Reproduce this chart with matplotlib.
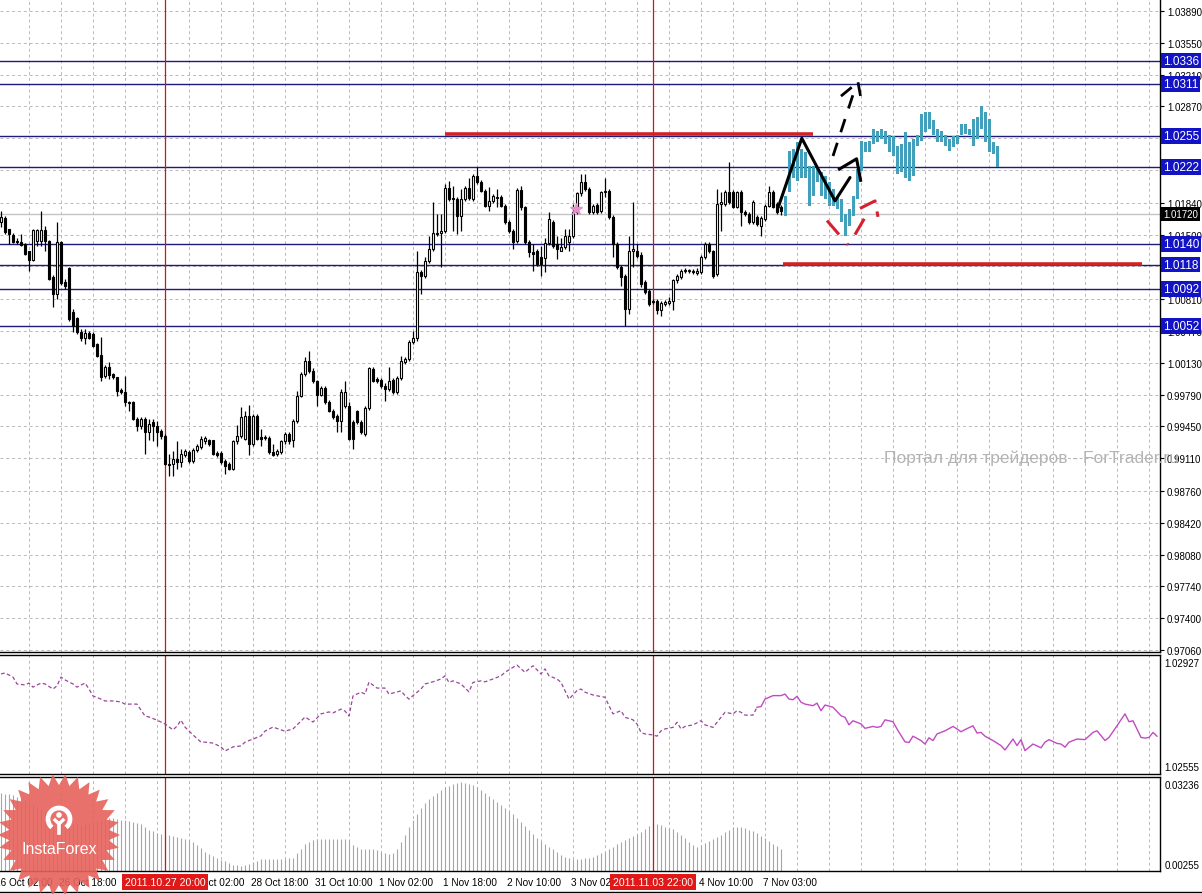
import numpy as np
import matplotlib
matplotlib.use("Agg")
import matplotlib.pyplot as plt
from matplotlib import transforms
from matplotlib.patches import Polygon, Circle, Arc
from matplotlib.lines import Line2D

plt.rcParams['font.family'] = ['Liberation Sans', 'DejaVu Sans']

W, H = 1202, 895

# H1 candles, prices in pips relative to 1.0000
opens = [164, 168, 156, 150, 143, 142, 140, 132, 123, 143, 143, 155, 143, 105, 87, 142, 99, 114, 67, 61,
         46, 39, 45, 44, 33, 21, -1, 9, 1, -2, -16, -18, -29, -29, -47, -55, -47, -61, -50, -55,
         -60, -65, -95, -95, -90, -93, -86, -82, -92, -80, -77, -71, -70, -70, -83, -83, -92, -95, -100, -71,
         -65, -68, -44, -74, -44, -66, -67, -67, -82, -85, -82, -71, -63, -70, -49, -22, 1, 15, 4, -7,
         -21, -14, -29, -38, -44, -49, -33, -33, -50, -39, -50, -63, -35, 6, -4, -5, -12, -15, -5, -18,
         -3, 14, 17, 35, 39, 110, 106, 122, 135, 151, 152, 154, 200, 189, 188, 170, 188, 200, 188, 213,
         206, 197, 181, 186, 189, 190, 181, 164, 154, 143, 198, 179, 142, 131, 132, 126, 125, 141, 164, 140,
         133, 137, 142, 148, 174, 194, 206, 199, 174, 182, 175, 195, 197, 169, 140, 115, 106, 71, 133, 133,
         128, 99, 90, 79, 79, 69, 76, 77, 79, 101, 105, 111, 111, 110, 109, 110, 126, 140, 132, 108,
         183, 183, 196, 196, 180, 196, 174, 172, 164, 169, 159, 167, 181, 196, 183, 180]
highs = [175, 170, 156, 152, 146, 151, 141, 133, 156, 156, 175, 159, 144, 107, 164, 143, 103, 115, 71, 62,
         49, 49, 47, 46, 34, 41, 11, 14, 2, -2, -14, -1, -28, -28, -45, -45, -45, -47, -47, -49,
         -58, -63, -84, -81, -71, -79, -79, -80, -78, -74, -65, -65, -68, -69, -81, -81, -90, -93, -69, -53,
         -34, -38, -32, -42, -42, -58, -64, -65, -74, -79, -69, -61, -61, -47, -17, 3, 19, 26, 7, -5,
         -12, -12, -27, -36, -42, -15, -6, -29, -48, -37, -48, -33, 9, 8, -2, -3, -9, 9, -3, -1,
         20, 19, 37, 47, 132, 112, 126, 148, 185, 172, 172, 204, 207, 202, 190, 199, 202, 210, 215, 222,
         208, 199, 201, 193, 199, 192, 183, 166, 156, 200, 202, 181, 144, 140, 135, 138, 146, 174, 166, 148,
         146, 156, 156, 183, 196, 215, 215, 201, 183, 184, 197, 210, 199, 171, 142, 117, 108, 148, 185, 140,
         131, 102, 92, 81, 81, 79, 80, 83, 103, 108, 113, 114, 113, 113, 114, 128, 142, 142, 134, 199,
         196, 198, 228, 198, 197, 198, 176, 174, 187, 171, 170, 183, 202, 198, 185, 182]
lows = [158, 151, 140, 141, 140, 138, 128, 111, 122, 138, 138, 133, 102, 73, 81, 96, 92, 58, 46, 44,
        36, 33, 38, 30, 19, -6, -3, -4, -4, -23, -20, -33, -39, -48, -60, -58, -84, -70, -71, -76,
        -68, -96, -108, -108, -100, -98, -88, -94, -94, -82, -79, -74, -76, -86, -88, -95, -106, -102, -102, -74,
        -67, -70, -86, -76, -70, -76, -70, -84, -87, -87, -84, -74, -74, -77, -51, -24, -1, 2, -9, -33,
        -23, -31, -40, -47, -61, -61, -35, -70, -79, -52, -63, -65, -37, -8, -9, -14, -28, -17, -20, -20,
        -5, 12, 15, 33, 36, 87, 104, 120, 133, 149, 115, 152, 186, 154, 151, 154, 186, 187, 186, 204,
        195, 179, 175, 184, 180, 179, 161, 152, 135, 141, 176, 140, 126, 111, 116, 106, 110, 139, 136, 124,
        132, 135, 132, 146, 172, 191, 197, 172, 172, 172, 173, 190, 167, 126, 113, 95, 52, 65, 115, 125,
        94, 87, 74, 76, 65, 63, 74, 75, 69, 98, 103, 109, 109, 108, 107, 108, 124, 130, 104, 106,
        154, 181, 183, 178, 178, 159, 170, 161, 161, 159, 149, 165, 179, 178, 172, 171]
closes = [169, 153, 151, 142, 142, 139, 129, 123, 155, 155, 155, 143, 103, 86, 142, 98, 95, 60, 52, 46,
          39, 45, 40, 31, 20, -2, 9, 0, -2, -17, -18, -29, -30, -47, -55, -47, -61, -52, -55, -61,
          -65, -95, -96, -90, -93, -85, -81, -92, -80, -76, -68, -67, -74, -84, -86, -93, -97, -100, -71, -65,
          -45, -44, -74, -44, -68, -68, -66, -82, -86, -81, -71, -63, -71, -49, -22, 1, 15, 4, -7, -21,
          -14, -29, -38, -45, -49, -18, -18, -68, -68, -50, -61, -35, 7, -6, -6, -12, -15, -6, -18, -3,
          15, 17, 35, 39, 110, 106, 122, 135, 152, 152, 154, 200, 188, 188, 170, 188, 200, 189, 213, 206,
          197, 181, 186, 191, 190, 181, 164, 154, 142, 198, 179, 142, 131, 129, 119, 119, 141, 167, 138, 135,
          137, 148, 148, 174, 194, 206, 199, 174, 181, 174, 195, 197, 169, 140, 115, 105, 71, 133, 135, 127,
          97, 89, 76, 78, 69, 77, 78, 79, 101, 106, 111, 112, 112, 111, 111, 126, 140, 132, 106, 183,
          185, 196, 185, 180, 195, 174, 172, 164, 185, 161, 168, 181, 196, 180, 174, 175]

# projected bars (cyan), high / low in pips relative to 1.0000
proj_start = 196
proj_high = [191, 239, 242, 249, 242, 238, 223, 223, 220, 217, 213, 206, 199, 191, 188, 172, 177, 191, 220, 250,
             249, 250, 263, 261, 263, 261, 256, 255, 245, 247, 260, 249, 252, 256, 279, 281, 281, 272, 263, 261,
             256, 252, 255, 256, 268, 268, 263, 274, 276, 287, 281, 274, 249, 245]
proj_low = [170, 196, 210, 207, 210, 210, 181, 191, 206, 191, 188, 181, 181, 177, 164, 149, 159, 170, 188, 218,
            238, 238, 247, 249, 252, 247, 238, 234, 215, 217, 210, 207, 213, 245, 250, 260, 263, 256, 249, 249,
            245, 239, 244, 247, 256, 258, 256, 245, 252, 263, 249, 238, 236, 222]

levels = [1.0336, 1.0311, 1.0255, 1.0222, 1.0140, 1.0118, 1.0092, 1.0052]
scale_prices = [1.0389, 1.0355, 1.0321, 1.0287, 1.0253, 1.0219, 1.0184, 1.0150, 1.0116, 1.0081, 1.0047,
                1.0013, 0.9979, 0.9945, 0.9911, 0.9876, 0.9842, 0.9808, 0.9774, 0.9740, 0.9706]
# scale labels fully hidden behind level boxes
hidden_scale = [1.0253, 1.0219, 1.0116]
last_price = 1.0172

# drawn analysis
red_levels = [1.0258, 1.0119]
red_from = [111, 195.5]
red_to = [203, 285.3]
zig_x = [194.3, 200.2, 208.5, 212.25]
zig_y = [1.0179, 1.0253, 1.0186, 1.0211]
zig_head_x = [209.6, 213.9, 214.9]
zig_head_y = [1.0220, 1.0231, 1.0208]
dash_x = [208, 213.5]
dash_y = [1.0234, 1.0306]
dash_head_x = [210, 214.25, 215]
dash_head_y = [1.0298, 1.0313, 1.0295]
red_arr1_x = [206.5, 211.75]
red_arr1_y = [1.0165, 1.0139]
red_arr2_x = [213.5, 216.5]
red_arr2_y = [1.0150, 1.0172]
red_head_x = [214.75, 218.5, 219.25]
red_head_y = [1.0178, 1.0186, 1.0169]
star_bar, star_price = 143.75, 1.0177

# second window (values in 1e-5)
ind_bars = [0, 1, 3, 4, 6, 7, 8, 10, 11, 13, 14, 15, 16, 18, 19, 21, 22, 23, 25, 26, 28, 30, 31, 33, 34, 36,
            37, 39, 40, 41, 43, 44, 45, 46, 48, 50, 51, 53, 55, 56, 58, 60, 61, 63, 65, 66, 68, 70, 71, 73,
            75, 76, 78, 80, 82, 83, 85, 86, 87, 88, 90, 91, 92, 94, 96, 97, 100, 101, 102, 103, 105, 106, 108,
            110, 111, 112, 113, 115, 117, 118, 120, 121, 123, 125, 126, 128, 129, 131, 132, 133, 135, 136, 137,
            139, 140, 142, 144, 145, 146, 148, 150, 151, 152, 153, 155, 156, 158, 159, 160, 161, 163, 164, 165,
            166, 168, 169, 170, 171, 173, 175, 176, 178, 179, 180, 181, 183, 184, 185, 186, 188, 189, 190, 191,
            193, 195, 196, 197, 198, 199, 200, 201, 203, 204, 205, 206, 208, 210, 211, 212, 213, 215, 216, 218,
            219, 220, 221, 223, 224, 226, 227, 228, 230, 231, 232, 233, 234, 236, 238, 239, 240, 241, 243, 244,
            245, 246, 248, 250, 251, 253, 254, 255, 256, 258, 260, 261, 262, 264, 265, 266, 267, 269, 271, 273,
            274, 275, 276, 277, 279, 281, 282, 283, 285, 286, 287, 288, 289]
ind_vals = [102870, 102873, 102860, 102838, 102835, 102841, 102828, 102841, 102838, 102822, 102832, 102860,
            102851, 102838, 102828, 102841, 102822, 102800, 102790, 102784, 102784, 102781, 102774, 102774,
            102774, 102736, 102733, 102723, 102717, 102711, 102692, 102704, 102723, 102701, 102676, 102653,
            102653, 102650, 102638, 102625, 102638, 102641, 102653, 102663, 102673, 102688, 102701, 102692,
            102688, 102695, 102720, 102733, 102717, 102743, 102749, 102746, 102758, 102752, 102736, 102800,
            102812, 102806, 102844, 102825, 102825, 102806, 102816, 102801, 102790, 102801, 102822, 102838,
            102845, 102854, 102864, 102843, 102848, 102838, 102813, 102843, 102848, 102845, 102854, 102864,
            102875, 102891, 102898, 102875, 102886, 102896, 102870, 102886, 102864, 102854, 102843, 102790,
            102817, 102822, 102812, 102803, 102798, 102796, 102769, 102743, 102753, 102732, 102724, 102711,
            102684, 102679, 102676, 102672, 102689, 102695, 102700, 102716, 102695, 102703, 102708, 102721,
            102708, 102700, 102716, 102732, 102748, 102743, 102753, 102748, 102739, 102739, 102764, 102766,
            102790, 102801, 102801, 102806, 102790, 102788, 102799, 102780, 102774, 102769, 102777, 102753,
            102771, 102764, 102737, 102732, 102708, 102721, 102711, 102697, 102703, 102700, 102703, 102724,
            102718, 102695, 102654, 102652, 102672, 102658, 102647, 102667, 102658, 102679, 102689, 102703,
            102695, 102686, 102693, 102705, 102682, 102684, 102672, 102658, 102642, 102628, 102663, 102642,
            102661, 102626, 102647, 102635, 102653, 102661, 102649, 102647, 102637, 102653, 102663, 102661,
            102684, 102689, 102674, 102658, 102668, 102705, 102743, 102718, 102721, 102668, 102666, 102668,
            102684, 102672]
ind_solid_from = 189

# third window histogram (values in 1e-4)
hist_vals = [275, 272, 270, 266, 262, 256, 250, 243, 236, 229, 222, 214, 206, 198, 190,
             185, 180, 176, 172, 170, 168, 170, 172, 176, 180, 184,
             188, 190, 190, 188, 185, 185, 182, 178, 174, 170,
             160, 152, 147, 142, 138, 135, 136, 133, 128, 125,
             122, 118, 112, 100, 92, 80, 72, 65, 58, 52,
             48, 42, 36, 34, 32, 35, 38, 44, 50, 55,
             55, 56, 55, 56, 55, 56, 57, 60, 75, 90,
             105, 112, 118, 120, 122, 122, 121, 120, 121, 122, 120, 118,
             100, 94, 90, 88, 90, 88, 86, 80, 75, 72,
             75, 90, 110, 135, 160, 185, 205, 225,
             240, 255, 265, 275, 283, 292, 298, 304, 308, 310, 308, 305, 300,
             292, 284, 275, 265, 255, 245, 235, 225, 215, 204,
             190, 178, 165, 150, 138, 125, 115, 105, 95, 88,
             78, 70, 62, 58, 55, 55, 55, 58, 60, 62,
             70, 75, 80, 88, 95, 105, 110, 118, 125, 130,
             138, 145, 155, 163, 170, 172, 168, 162, 158, 155,
             145, 135, 125, 110, 100, 95, 100, 108, 115, 122,
             128, 135, 145, 152, 160, 162, 160, 158, 152, 148,
             140, 132, 125, 115, 105, 98, 90]

# time scale (labels hidden behind the red boxes are left out)
time_bars = [-1, 15, 31, 47, 63, 79, 95, 111, 127, 143, 159, 175, 191]
time_labels = ['26 Oct 02:00', '26 Oct 18:00', '', '28 Oct 02:00', '28 Oct 18:00',
               '31 Oct 10:00', '1 Nov 02:00', '1 Nov 18:00', '2 Nov 10:00', '3 Nov 02:00',
               '', '4 Nov 10:00', '7 Nov 03:00']
vline_bars = [41, 163]
vline_labels = ['2011.10.27 20:00', '2011.11.03 22:00']

# ---------------------------------------------------------------
o = 1 + np.array(opens) / 1e4
h = 1 + np.array(highs) / 1e4
l = 1 + np.array(lows) / 1e4
c = 1 + np.array(closes) / 1e4
idx = np.arange(len(o))

fig = plt.figure(figsize=(W / 100, H / 100), dpi=100)
fig.patch.set_facecolor('white')


def panel(top, bot):
    return fig.add_axes([0, 1 - bot / H, 1160 / W, (bot - top) / H])


ax1 = panel(0, 653)
ax2 = panel(656, 775)
ax3 = panel(778, 872)

grid_bars = np.arange(7, 290, 8)
ax3.set_xticks(time_bars, minor=True)
for ax in (ax1, ax2, ax3):
    ax.set_xticks(grid_bars)
    ax.set_xticklabels([])
    ax.tick_params(axis='x', which='major', length=0)
    ax.set_xlim(-0.25, 289.75)
    ax.grid(True, axis='x', color='#b8b8b8', linestyle=(0, (3, 3)), lw=0.7)
    ax.spines['left'].set_visible(False)
    for s in ('top', 'bottom', 'right'):
        ax.spines[s].set_color('black')
        ax.spines[s].set_linewidth(1.0)
    ax.set_yticks([])
    for b in vline_bars:
        ax.axvline(b, color='#d41414', lw=0.9, zorder=2.5)
ax1.spines['top'].set_visible(False)
ax3.tick_params(axis='x', which='minor', length=4, direction='out', color='black')

# main window
ax1.set_ylim(0.97039, 1.04018)
ax1.yaxis.tick_right()
ax1.set_yticks(scale_prices)
ax1.set_yticklabels(['' if p in hidden_scale else f'{p:.5f}' for p in scale_prices])
ax1.tick_params(axis='y', length=3, pad=2, labelsize=7, direction='out')
ax1.grid(True, axis='y', color='#b8b8b8', linestyle=(0, (3, 3)), lw=0.7)

for lv in levels:
    ax1.axhline(lv, color='#1c1c78', lw=1.0, zorder=2)
ax1.axhline(last_price, color='#c4c4c4', lw=1.0, zorder=1.8)

ax1.vlines(idx, l, h, color='black', lw=0.9, zorder=3)
up = c >= o
body_lo = np.minimum(o, c)
body_h = np.maximum(np.abs(c - o), 0.00008)
ax1.bar(idx[up], body_h[up], bottom=body_lo[up], width=0.72, color='white',
        edgecolor='black', linewidth=0.8, zorder=4)
ax1.bar(idx[~up], body_h[~up], bottom=body_lo[~up], width=0.72, color='black',
        edgecolor='black', linewidth=0.8, zorder=4)

ph = 1 + np.array(proj_high) / 1e4
pl = 1 + np.array(proj_low) / 1e4
pidx = proj_start + np.arange(len(ph))
ax1.bar(pidx, ph - pl, bottom=pl, width=0.75, color='#43a0bd', linewidth=0, zorder=4)

for lv, x0, x1 in zip(red_levels, red_from, red_to):
    ax1.hlines(lv, x0, x1, color='#d42222', lw=2.6, zorder=5)

ax1.plot(zig_x, zig_y, color='black', lw=2.2, zorder=6, solid_capstyle='round')
ax1.plot(zig_head_x, zig_head_y, color='black', lw=2.2, zorder=6)
ax1.plot(dash_x, dash_y, color='black', lw=2.0, dashes=(5, 4), zorder=6)
ax1.plot(dash_head_x, dash_head_y, color='black', lw=2.0, dashes=(5, 3), zorder=6)
ax1.plot(red_arr1_x, red_arr1_y, color='#d42030', lw=2.2, dashes=(6, 4), zorder=6)
ax1.plot(red_arr2_x, red_arr2_y, color='#d42030', lw=2.2, dashes=(6, 4), zorder=6)
ax1.plot(red_head_x, red_head_y, color='#d42030', lw=2.2, dashes=(6, 3), zorder=6)
ax1.plot([star_bar], [star_price], marker='*', ms=9, color='#e590c8', mec='#e590c8', zorder=6)

ytr = transforms.blended_transform_factory(ax1.transAxes, ax1.transData)
for lv in levels:
    ax1.text(1.0025, lv, f'{lv:.4f}', transform=ytr, ha='left', va='center', fontsize=8.5,
             color='white', clip_on=False, zorder=8,
             bbox=dict(boxstyle='square,pad=0.16', fc='#1313c6', ec='none'))
ax1.text(1.0025, last_price, f'{last_price:.5f}', transform=ytr, ha='left', va='center', fontsize=7,
         color='white', clip_on=False, zorder=8,
         bbox=dict(boxstyle='square,pad=0.2', fc='black', ec='none'))

# second window
ax2.set_ylim(1.025517, 1.029302)
ib = np.array(ind_bars)
iv = np.array(ind_vals) / 1e5
m1 = ib <= ind_solid_from
m2 = ib >= ind_solid_from
ax2.plot(ib[m1], iv[m1], color='#9a469a', lw=0.9, dashes=(3, 2), zorder=3)
ax2.plot(ib[m2], iv[m2], color='#c24ac2', lw=1.0, zorder=3)
ax2.text(1.004, 0.93, '1.02927', transform=ax2.transAxes, fontsize=7, va='center', ha='left')
ax2.text(1.004, 0.06, '1.02555', transform=ax2.transAxes, fontsize=7, va='center', ha='left')

# third window
ax3.set_ylim(0.00156, 0.03267)
hv = np.array(hist_vals) / 1e4
ax3.vlines(np.arange(len(hv)), 0, hv, color='#a6a6a6', lw=0.8, zorder=2)
ax3.text(1.004, 0.92, '0.03236', transform=ax3.transAxes, fontsize=7, va='center', ha='left')
ax3.text(1.004, 0.065, '0.00255', transform=ax3.transAxes, fontsize=7, va='center', ha='left')

# time scale
tx = transforms.blended_transform_factory(ax3.transData, fig.transFigure)
label_y = 1 - 883 / H
for b, s in zip(time_bars, time_labels):
    if s:
        ax3.text(b - 0.6, label_y, s, transform=tx, ha='left', va='center', fontsize=7.2,
                 clip_on=False, zorder=3)
for b, s in zip(vline_bars, vline_labels):
    ax3.text(b, label_y, s, transform=tx, ha='center', va='center', fontsize=7.6, color='white',
             clip_on=False, zorder=8,
             bbox=dict(boxstyle='square,pad=0.28', fc='#e01818', ec='none'))

fig.add_artist(Line2D([0, 1], [1 - 893 / H] * 2, transform=fig.transFigure, color='black', lw=1.0))

# watermark
fig.text(884 / W, 1 - 458 / H, 'Портал для трейдеров - ForTrader.ru', fontsize=12.5,
         color='#b3b3b3', ha='left', va='center', zorder=5)

# logo
cx, cy = 59, 836
n = 30
ang = np.linspace(0, 2 * np.pi, 2 * n, endpoint=False)
rad = np.where(np.arange(2 * n) % 2 == 0, 61, 50)
pts = np.column_stack([(cx + rad * np.cos(ang)) / W, 1 - (cy + rad * np.sin(ang)) / H])
fig.add_artist(Polygon(pts, closed=True, transform=fig.transFigure, fc='#e6625c', ec='none',
                       alpha=0.9, zorder=10))
pix = transforms.IdentityTransform()
fig.add_artist(Arc((cx, H - 820), 22, 22, theta1=-50, theta2=230, transform=pix, ec='white',
                   lw=3.4, zorder=11))
fig.add_artist(Circle((cx, H - 816), 2.8, transform=pix, fc='white', ec='none', zorder=12))
fig.add_artist(Line2D([cx - 4, cx, cx + 4], [H - 821, H - 825, H - 821], transform=pix,
                      color='white', lw=2.4, zorder=12))
fig.add_artist(Line2D([cx, cx], [H - 824, H - 834], transform=pix, color='white', lw=2.6, zorder=12))
fig.text(cx / W, 1 - 849 / H, 'InstaForex', fontsize=11.5, color='white', ha='center', va='center',
         zorder=12)

fig.savefig('out.png', dpi=100)
